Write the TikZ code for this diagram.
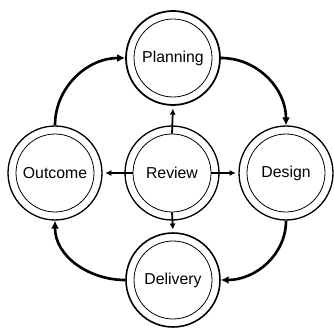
\documentclass[tikz,border=0pt]{standalone}
\usepackage{fontspec}
\setmainfont{Liberation Sans}
\usetikzlibrary{arrows.meta}
\begin{document}
\begin{tikzpicture}[x=0.02cm,y=-0.02cm,
  outer/.style={circle,draw=black,line width=0.75pt,minimum size=1.88cm,inner sep=0pt},
  inner/.style={circle,draw=black,line width=0.45pt,minimum size=1.56cm,inner sep=0pt,
    font=\fontsize{9}{10}\selectfont},
  cycle/.style={line width=1.5pt,-{Latex[length=4.5pt,width=4.5pt]}},
  spoke/.style={line width=1pt,-{Latex[length=3.5pt,width=3.5pt]},shorten >=1.5pt}]
\useasboundingbox (0,0) rectangle (334,330);
% the five stages, each a double ring
\node[outer,line width=1pt] (plan) at (173,58) {};
\node[inner] (plan-in) at (plan) {Planning};
\node[outer] (rev) at (172,173) {};
\node[inner] (rev-in) at (rev) {Review};
\node[outer] (out) at (55,173) {};
\node[inner] (out-in) at (out) {Outcome};
\node[outer] (des) at (286,173) {};
\node[inner] (des-in) at (des) {Design};
\node[outer,line width=0.9pt] (del) at (173,280) {};
\node[inner] (del-in) at (del) {Delivery};
% outer cycle
\draw[cycle] (out.north) to[out=90,in=180] (plan.west);
\draw[cycle] (plan.east) to[out=0,in=90] (des.north);
\draw[cycle] (des.south) to[out=270,in=0] (del.east);
\draw[cycle] (del.west) to[out=180,in=270] (out.south);
% review spokes
\draw[spoke] (rev-in.north) -- (plan.south);
\draw[spoke] (rev-in.west) -- (out.east);
\draw[spoke] (rev-in.east) -- (des.west);
\draw[spoke] (rev-in.south) -- (del.north);
\end{tikzpicture}
\end{document}
